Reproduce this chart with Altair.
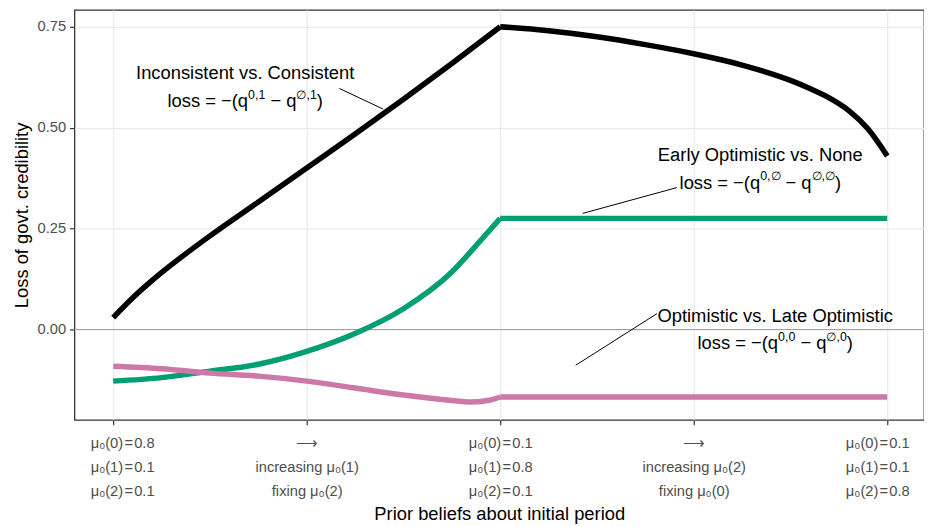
import json
import altair as alt
import pandas as pd

FONT = "Liberation Sans"

# ---------------- data ----------------
SERIES = ["Inconsistent vs. Consistent", "Early Optimistic vs. None", "Optimistic vs. Late Optimistic"]
COLORS = ["#000000", "#009E73", "#CC79A7"]

# Inconsistent vs. Consistent (black)
incons_x1 = [0, 0.1, 0.2, 0.3, 0.5, 0.75, 1.0, 1.25, 1.5, 1.75, 2.0]
incons_y1 = [0.0295, 0.078, 0.121, 0.160, 0.232, 0.316, 0.400, 0.484, 0.5705, 0.659, 0.75]
incons_x2 = [2.0, 2.25, 2.5, 2.75, 3.0, 3.25, 3.5, 3.6, 3.7, 3.8, 3.9, 4.0]
incons_y2 = [0.75, 0.740, 0.725, 0.7055, 0.683, 0.655, 0.617, 0.597, 0.574, 0.543, 0.497, 0.430]

# Early Optimistic vs. None (green)
early_x1 = [0, 0.25, 0.5, 0.75, 1.0, 1.25, 1.5, 1.75, 1.9, 2.0]
early_y1 = [-0.1278, -0.1192, -0.103, -0.0860, -0.0541, -0.0098, 0.0516, 0.1426, 0.2212, 0.2753]
early_x2 = [2.0, 4.0]
early_y2 = [0.2753, 0.2753]

# Optimistic vs. Late Optimistic (pink)
optim_x1 = [0, 0.25, 0.5, 0.75, 1.0, 1.25, 1.5, 1.75, 1.85, 1.95, 2.0]
optim_y1 = [-0.0910, -0.0971, -0.108, -0.1155, -0.1278, -0.1450, -0.1622, -0.1758, -0.1795, -0.1745, -0.1672]
optim_x2 = [2.0, 4.0]
optim_y2 = [-0.1672, -0.1672]

# x tick labels (one list of lines per tick)
tick_values = [0, 1, 2, 3, 4]
tick_labels = [
    ["μ₀(0)\u200a=\u200a0.8", "μ₀(1)\u200a=\u200a0.1", "μ₀(2)\u200a=\u200a0.1"],
    ["⟶", "increasing μ₀(1)", "fixing μ₀(2)"],
    ["μ₀(0)\u200a=\u200a0.1", "μ₀(1)\u200a=\u200a0.8", "μ₀(2)\u200a=\u200a0.1"],
    ["⟶", "increasing μ₀(2)", "fixing μ₀(0)"],
    ["μ₀(0)\u200a=\u200a0.1", "μ₀(1)\u200a=\u200a0.1", "μ₀(2)\u200a=\u200a0.8"],
]
y_ticks = [0, 0.25, 0.5, 0.75]

# annotations: pieces are (text, kind) with kind m=main, s=superscript, g=gap
ann_titles = SERIES
ann_loss = [
    [("loss = −(q", "m"), ("0,1", "s"), ("", "g"), ("− q", "m"), ("∅,1", "s"), (")", "m")],
    [("loss = −(q", "m"), ("0,∅", "s"), ("", "g"), ("− q", "m"), ("∅,∅", "s"), (")", "m")],
    [("loss = −(q", "m"), ("0,0", "s"), ("", "g"), ("− q", "m"), ("∅,0", "s"), (")", "m")],
]
ann_x = [0.682, 3.344, 3.421]
ann_y1 = [0.6195, 0.418, 0.0197]
ann_y2 = [0.5506, 0.349, -0.0492]

ptr_x = [1.169, 2.913, 2.810]
ptr_y = [0.597, 0.3515, 0.0393]
ptr_x2 = [1.395, 2.426, 2.390]
ptr_y2 = [0.546, 0.2876, -0.0885]

# ---------------- layout ----------------
W, H = 856, 413
XDOM = [-0.2, 4.19]
YDOM = [-0.2237, 0.7915]
PX_X = W / (XDOM[1] - XDOM[0])
PX_Y = H / (YDOM[1] - YDOM[0])
FS_MAIN = 18.5
FS_SUP = 12.5
SUP_RAISE = 8.5
GAP_PX = 0.278 * FS_MAIN

xs = alt.Scale(domain=XDOM, nice=False, zero=False)
ys = alt.Scale(domain=YDOM, nice=False, zero=False)

rows = []
for name, segs in zip(SERIES, [
        [(incons_x1, incons_y1), (incons_x2, incons_y2)],
        [(early_x1, early_y1), (early_x2, early_y2)],
        [(optim_x1, optim_y1), (optim_x2, optim_y2)]]):
    for si, (sx, sy) in enumerate(segs):
        for i, (a, b) in enumerate(zip(sx, sy)):
            rows.append({"series": name, "seg": f"{name}-{si}", "x": a, "y": b, "o": i})
df = pd.DataFrame(rows)

CW = {'l': .222, 'o': .556, 's': .5, ' ': .278, '=': .584, '−': .584, '(': .333, ')': .333,
      'q': .556, '0': .556, '1': .556, ',': .278, '∅': .8}


def piece_w(t, kind):
    if kind == "g":
        return GAP_PX
    fs = FS_SUP if kind == "s" else FS_MAIN
    return sum(CW.get(c, .556) for c in t) * fs


piece_rows = []
for i, pieces in enumerate(ann_loss):
    total = sum(piece_w(t, k) for t, k in pieces)
    cur = -total / 2
    for t, k in pieces:
        if k != "g":
            piece_rows.append({
                "x": ann_x[i] + cur / PX_X,
                "y": ann_y2[i] + (SUP_RAISE / PX_Y if k == "s" else 0),
                "text": t, "size": FS_SUP if k == "s" else FS_MAIN})
        cur += piece_w(t, k)
pieces_df = pd.DataFrame(piece_rows)

titles_df = pd.DataFrame({"x": ann_x, "y": ann_y1, "text": ann_titles})
ptr_df = pd.DataFrame({"x": ptr_x, "y": ptr_y, "x2": ptr_x2, "y2": ptr_y2})

label_expr = json.dumps(tick_labels, ensure_ascii=False) + "[datum.value]"

x_axis = alt.Axis(
    values=tick_values, labelExpr=label_expr, title="Prior beliefs about initial period",
    titleFontSize=FS_MAIN, titleFontWeight="normal", titleColor="#000000", titlePadding=7,
    labelFontSize=14.8, labelColor="#4D4D4D", labelLineHeight=24, labelPadding=11,
    labelOverlap=False, labelFlush=False,
    labelOffset={"condition": [{"test": "datum.value === 0", "value": 9},
                               {"test": "datum.value === 4", "value": -10}], "value": 0},
    tickSize=5, tickColor="#333333", tickWidth=1.2,
    grid=True, gridColor="#EBEBEB", gridWidth=1.3, domain=False)
y_axis = alt.Axis(
    values=y_ticks, format=".2f", title="Loss of govt. credibility",
    titleFontSize=FS_MAIN, titleFontWeight="normal", titleColor="#000000", titlePadding=6,
    labelFontSize=14.8, labelColor="#4D4D4D", labelPadding=4,
    tickSize=5, tickColor="#333333", tickWidth=1.2,
    grid=True, gridColor="#EBEBEB", gridWidth=1.3, domain=False)


def X(f="x"):
    return alt.X(f"{f}:Q", scale=xs, axis=x_axis)


def Y(f="y"):
    return alt.Y(f"{f}:Q", scale=ys, axis=y_axis)


zero = alt.Chart(pd.DataFrame({"y": [0.0]})).mark_rule(color="#A0A0A0", strokeWidth=1).encode(y=Y())

lines = alt.Chart(df).mark_line(strokeWidth=5.5, interpolate="monotone").encode(
    x=X(), y=Y(),
    color=alt.Color("series:N", scale=alt.Scale(domain=SERIES, range=COLORS), legend=None),
    detail="seg:N",
    order="o:Q",
)

ptrs = alt.Chart(ptr_df).mark_rule(color="#000000", strokeWidth=1).encode(
    x=X(), y=Y(), x2="x2:Q", y2="y2:Q")

titles = alt.Chart(titles_df).mark_text(
    align="center", baseline="alphabetic", fontSize=FS_MAIN, font=FONT, color="#000000").encode(
    x=X(), y=Y(), text="text:N")

loss = alt.Chart(pieces_df).mark_text(
    align="left", baseline="alphabetic", font=FONT, color="#000000").encode(
    x=X(), y=Y(), text="text:N",
    size=alt.Size("size:Q", scale=None))

chart = alt.layer(zero, lines, ptrs, titles, loss).properties(
    width=W, height=H,
    autosize=alt.AutoSizeParams(type="none"),
    padding={"left": 67, "top": 0, "right": 0, "bottom": 104},
).configure(font=FONT).configure_view(stroke="#333333", strokeWidth=1.3)

chart.save("out.html", embed_options={"renderer": "svg", "actions": False})
